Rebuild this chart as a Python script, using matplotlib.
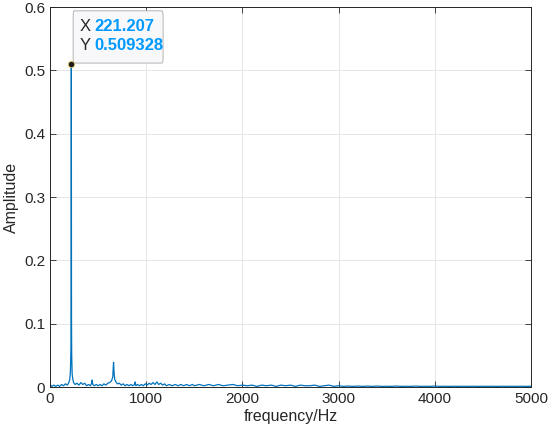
import matplotlib
matplotlib.use("Agg")
import matplotlib.pyplot as plt
import matplotlib.ticker as ticker
from matplotlib.patches import FancyBboxPatch

# spectrum, low band (Hz, amplitude)
low_freq = [0, 5, 20, 40, 60, 80, 100, 120, 140, 160,
            180, 195, 205, 212, 217, 219, 221.207, 223, 225, 230,
            237, 245, 260, 280, 300, 320, 340, 360, 380, 400,
            420, 432, 438, 444, 460, 480, 500, 520, 540, 560,
            580, 600, 620, 640, 652, 660, 666, 672, 685, 700,
            720, 740, 760, 780, 800, 820, 840, 860, 878, 885,
            892, 910, 930, 950, 970, 990, 1010, 1030, 1050, 1070,
            1090, 1110, 1130, 1150, 1170, 1190, 1210, 1240, 1270, 1300,
            1330, 1360, 1390, 1420, 1450, 1480]
low_amp = [0.013, 0.003, 0.001, 0.003, 0.001, 0.003, 0.001, 0.004, 0.002, 0.005,
           0.003, 0.007, 0.012, 0.025, 0.06, 0.118, 0.509328, 0.11, 0.05, 0.02,
           0.012, 0.007, 0.004, 0.006, 0.003, 0.007, 0.004, 0.006, 0.002, 0.004,
           0.002, 0.006, 0.011, 0.004, 0.002, 0.004, 0.002, 0.004, 0.002, 0.005,
           0.003, 0.006, 0.007, 0.010, 0.016, 0.039, 0.022, 0.012, 0.008, 0.005,
           0.006, 0.003, 0.005, 0.002, 0.004, 0.002, 0.004, 0.002, 0.004, 0.008,
           0.002, 0.004, 0.002, 0.004, 0.002, 0.005, 0.003, 0.006, 0.004, 0.007,
           0.004, 0.008, 0.004, 0.006, 0.003, 0.005, 0.002, 0.004, 0.002, 0.004,
           0.002, 0.004, 0.002, 0.004, 0.002, 0.004]

# high band, every 50 Hz from 1500 to 5000
high_freq = list(range(1500, 5001, 50))
high_amp = [0.002, 0.004, 0.002, 0.004, 0.002, 0.004, 0.002, 0.003, 0.004, 0.002,
            0.003, 0.002, 0.003, 0.001, 0.003, 0.002, 0.003, 0.001, 0.003, 0.002,
            0.003, 0.001, 0.003, 0.002, 0.002, 0.003, 0.001, 0.002, 0.003, 0.001,
            0.002, 0.001, 0.0015, 0.001, 0.0015, 0.001, 0.0015, 0.001, 0.0015, 0.001,
            0.0012, 0.001, 0.0015, 0.001, 0.0012, 0.001, 0.0015, 0.001, 0.0012, 0.001,
            0.0015, 0.001, 0.0012, 0.001, 0.0012, 0.001, 0.0012, 0.001, 0.0012, 0.001,
            0.0012, 0.001, 0.0012, 0.001, 0.0012, 0.001, 0.0012, 0.001, 0.0012, 0.001,
            0.0012]

tip_x = 221.207
tip_y = 0.509328

plt.rcParams["font.family"] = ["Liberation Sans", "DejaVu Sans"]
AXC = "#262626"

fig = plt.figure(figsize=(5.5, 4.38), dpi=100)
ax = fig.add_axes([0.091, 0.1164, 0.8745, 0.8676])

ax.plot(low_freq + high_freq, low_amp + high_amp, color="#0072BD", linewidth=0.9)
ax.plot([tip_x], [tip_y], "o", markersize=4.5, markerfacecolor="#1a1a1a",
        markeredgecolor="#e0c060", markeredgewidth=0.6, zorder=5)

ax.set_xlim(0, 5000)
ax.set_ylim(0, 0.6)
ax.set_xticks(range(0, 5001, 1000))
ax.set_yticks([0, 0.1, 0.2, 0.3, 0.4, 0.5, 0.6])
ax.yaxis.set_major_formatter(ticker.FormatStrFormatter("%g"))
ax.grid(True, color="#e6e6e6", linewidth=0.7)
ax.set_axisbelow(True)
ax.tick_params(direction="in", length=4, width=0.6, top=True, right=True,
               colors=AXC, labelsize=11)
for s in ax.spines.values():
    s.set_color(AXC)
    s.set_linewidth(0.7)
ax.set_xlabel("frequency/Hz", fontsize=11.5, color=AXC, labelpad=2)
ax.set_ylabel("Amplitude", fontsize=11.5, color=AXC, labelpad=4)

# data tip
bx0, by0 = 240, 0.5115
ax.add_patch(FancyBboxPatch((bx0, by0), 935, 0.0825,
                            boxstyle="round,pad=0,rounding_size=12",
                            mutation_aspect=0.0825 / 935 * 9.8,
                            facecolor="#f8f8fb", edgecolor="#b4b4b8",
                            linewidth=0.7, zorder=4))
ax.text(bx0 + 65, by0 + 0.057, "X", fontsize=12, color=AXC, va="center", zorder=6)
ax.text(bx0 + 225, by0 + 0.057, f"{tip_x:g}", fontsize=12, color="#0099FF",
        fontweight="bold", va="center", zorder=6)
ax.text(bx0 + 65, by0 + 0.027, "Y", fontsize=12, color=AXC, va="center", zorder=6)
ax.text(bx0 + 225, by0 + 0.027, f"{tip_y:g}", fontsize=12, color="#0099FF",
        fontweight="bold", va="center", zorder=6)

fig.savefig("out.png", dpi=100)
